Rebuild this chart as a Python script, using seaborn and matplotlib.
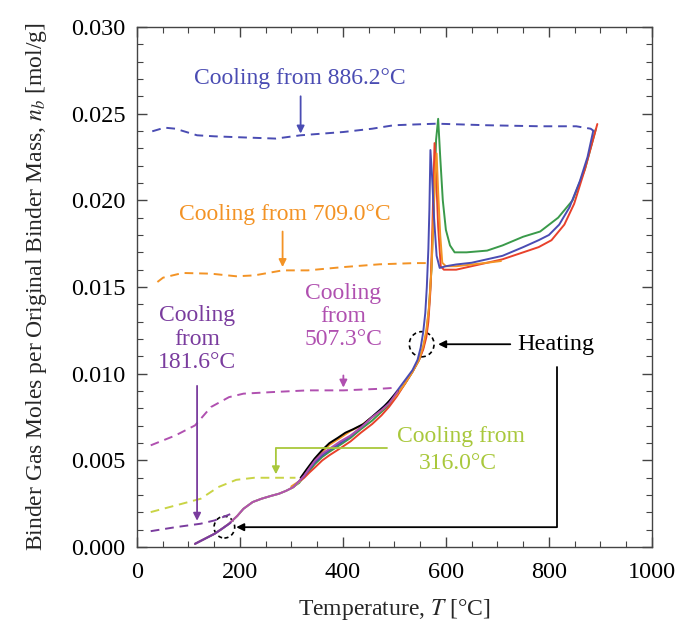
import numpy as np
import pandas as pd
import matplotlib
matplotlib.use("Agg")
import matplotlib.pyplot as plt
from matplotlib.ticker import MultipleLocator, FormatStrFormatter
from matplotlib.patches import Ellipse
import seaborn as sns

# ---- data ----
# shared low-temperature part of the heating runs
T_low = [113, 130, 151, 165, 179, 195, 207, 225, 242, 260, 276, 290, 304]
n_low = [0.00019, 0.00045, 0.00077, 0.00105, 0.00135, 0.0018, 0.00221, 0.0026,
         0.00279, 0.00295, 0.00308, 0.00325, 0.00346]

# heating to 181.6 / 316.0 / 507.3 C
T_h181 = [113, 130, 151, 165, 182]
n_h181 = [0.00019, 0.00045, 0.00077, 0.00105, 0.0014]
T_h316 = T_low + [316]
n_h316 = n_low + [0.0038]
T_h507 = T_low + [315, 325, 335, 346, 360, 374, 395, 415, 435, 457, 475, 490, 507]
n_h507 = n_low + [0.0038, 0.00413, 0.00455, 0.005, 0.0054, 0.00567, 0.0061, 0.00644,
                  0.0069, 0.0075, 0.0079, 0.0083, 0.0090]
T_black = [318, 330, 345, 360, 374, 390, 405, 420, 440, 460, 480, 507]
n_black = [0.0040, 0.0045, 0.0051, 0.0056, 0.0060, 0.0063, 0.0066, 0.0068, 0.0071,
           0.0076, 0.0081, 0.0090]

# heating to 709.0 C (orange)
T_orange = [300, 315, 325, 335, 346, 360, 374, 395, 415, 435, 457, 475, 490, 505, 520,
            535, 548, 556, 562, 567, 572, 576, 579, 582, 585, 589, 593, 600, 620, 651,
            680, 707]
n_orange = [0.0035, 0.0038, 0.0042, 0.0046, 0.0050, 0.0055, 0.0059, 0.0063, 0.0067,
            0.0070, 0.0075, 0.0079, 0.0083, 0.0088, 0.0094, 0.0101, 0.0108, 0.0116,
            0.0125, 0.0138, 0.0160, 0.0190, 0.0215, 0.0227, 0.0205, 0.0180, 0.0164,
            0.0162, 0.0162, 0.0163, 0.0164, 0.0165]

# heating to ~890 C (blue, red, green)
T_blue = T_low + [315, 325, 335, 346, 360, 374, 395, 415, 435, 457, 475, 490, 505, 520,
                  535, 545, 551, 556, 560, 563, 566, 568, 570, 573, 577, 582, 588, 600,
                  620, 650, 680, 710, 750, 780, 800, 820, 840, 860, 875, 886]
n_blue = n_low + [0.0038, 0.0041, 0.0045, 0.0049, 0.0053, 0.0056, 0.0060, 0.0064, 0.0069,
                  0.0075, 0.0080, 0.0084, 0.0090, 0.0096, 0.0102, 0.0108, 0.0115, 0.0124,
                  0.0135, 0.0150, 0.0172, 0.0195, 0.0229, 0.0215, 0.0190, 0.0168, 0.0161,
                  0.0162, 0.0163, 0.0164, 0.0166, 0.0168, 0.0173, 0.0177, 0.0180, 0.0186,
                  0.0196, 0.0211, 0.0225, 0.0240]
T_red = [300, 325, 335, 346, 360, 374, 395, 415, 435, 457, 475, 490, 505, 520, 535, 548,
         556, 562, 566, 570, 573, 576, 578, 581, 585, 590, 596, 620, 650, 680, 710, 750,
         780, 805, 830, 849, 870, 894]
n_red = [0.0034, 0.0040, 0.0043, 0.0046, 0.0050, 0.0053, 0.0057, 0.0061, 0.0066, 0.0071,
         0.0076, 0.0081, 0.0087, 0.0094, 0.0101, 0.0108, 0.0114, 0.0121, 0.0130, 0.0148,
         0.0175, 0.0210, 0.0233, 0.0215, 0.0185, 0.0162, 0.0160, 0.0160, 0.0162, 0.0164,
         0.0166, 0.0170, 0.0173, 0.0177, 0.0186, 0.0198, 0.0218, 0.0244]
T_green = [300, 315, 325, 335, 346, 360, 374, 395, 415, 435, 457, 475, 490, 505, 520, 535,
           548, 556, 562, 567, 572, 577, 581, 585, 589, 594, 600, 608, 617, 640, 680, 710,
           750, 783, 818, 846, 870, 891]
n_green = [0.0034, 0.0037, 0.0041, 0.0044, 0.0048, 0.0052, 0.0055, 0.0059, 0.0063, 0.0068,
           0.0073, 0.0078, 0.0082, 0.0088, 0.0094, 0.0101, 0.0108, 0.0115, 0.0123, 0.0137,
           0.0160, 0.0200, 0.0235, 0.0247, 0.0225, 0.0200, 0.0183, 0.0174, 0.0170, 0.0170,
           0.0171, 0.0174, 0.0179, 0.0182, 0.0190, 0.0200, 0.0218, 0.0241]

# cooling runs (dashed)
T_c886 = [30, 54, 75, 117, 151, 214, 270, 318, 401, 457, 499, 582, 679, 783, 853, 881, 888]
n_c886 = [0.02398, 0.02419, 0.02413, 0.02375, 0.02369, 0.02362, 0.02356, 0.02375, 0.02394,
          0.02413, 0.02433, 0.02442, 0.02433, 0.02427, 0.02427, 0.02413, 0.02398]
T_c709 = [40, 51, 89, 144, 193, 228, 283, 332, 401, 471, 540, 561]
n_c709 = [0.01529, 0.01554, 0.01581, 0.01577, 0.01562, 0.01567, 0.01596, 0.01596, 0.01615,
          0.01631, 0.01638, 0.01638]
T_c507 = [27, 75, 113, 144, 179, 207, 262, 332, 401, 471, 502]
n_c507 = [0.00587, 0.00644, 0.00702, 0.00808, 0.00865, 0.00885, 0.00894, 0.00904, 0.00904,
          0.00913, 0.00919]
T_c316 = [27, 75, 124, 158, 193, 228, 276, 308]
n_c316 = [0.00202, 0.0024, 0.00279, 0.00346, 0.00388, 0.004, 0.004, 0.004]
T_c181 = [27, 75, 124, 151, 183]
n_c181 = [0.00092, 0.00115, 0.00135, 0.00154, 0.00192]

BLUE = "#4a4cb3"
RED = "#e8412b"
GREEN = "#3a9a4a"
ORANGE = "#f39325"
YGREEN = "#c9d445"
MAGENTA = "#b050b0"
VIOLET = "#7a3c9e"
LGREEN = "#a9c83c"

# ---- style ----
sns.set_theme(style="ticks")
plt.rcParams['font.family'] = ['Liberation Serif', 'DejaVu Serif']
plt.rcParams['mathtext.fontset'] = 'stix'

fig = plt.figure(figsize=(6.98, 6.26), dpi=100)
ax = fig.add_axes([0.196, 0.126, 0.738, 0.831])


def draw(T, n, color, dashed=False, lw=1.4):
    df = pd.DataFrame({'T': T, 'n': n})
    sns.lineplot(data=df, x='T', y='n', sort=False, estimator=None, color=color,
                 lw=lw, ax=ax, linestyle=(0, (4.5, 3)) if dashed else '-')


# cooling (dashed)
draw(T_c886, n_c886, BLUE, dashed=True)
draw(T_c709, n_c709, ORANGE, dashed=True)
draw(T_c507, n_c507, MAGENTA, dashed=True)
draw(T_c316, n_c316, YGREEN, dashed=True)
draw(T_c181, n_c181, VIOLET, dashed=True)

# heating (solid)
draw(T_green, n_green, GREEN)
draw(T_red, n_red, RED)
draw(T_orange, n_orange, ORANGE)
draw(T_blue, n_blue, BLUE)
draw(T_black, n_black, "black")
draw(T_h316, n_h316, YGREEN)
draw(T_h507, n_h507, MAGENTA)
draw(T_h181, n_h181, VIOLET)

# ---- axes ----
ax.set_xlim(0, 1000)
ax.set_ylim(0, 0.030)
ax.xaxis.set_major_locator(MultipleLocator(200))
ax.xaxis.set_minor_locator(MultipleLocator(50))
ax.yaxis.set_major_locator(MultipleLocator(0.005))
ax.yaxis.set_minor_locator(MultipleLocator(0.001))
ax.yaxis.set_major_formatter(FormatStrFormatter('%.3f'))
ax.tick_params(which='both', direction='in', top=True, right=True, colors='#444444',
               labelcolor='black', labelsize=17.5)
ax.tick_params(axis='x', which='major', length=7, width=1.0, pad=11)
ax.tick_params(axis='y', which='major', length=7, width=1.0, pad=8)
ax.tick_params(which='minor', length=4, width=0.8)
for s in ax.spines.values():
    s.set_color('#444444')
    s.set_linewidth(1.0)
ax.set_xlabel('Temperature, $T$ [°C]', fontsize=17, labelpad=10)
ax.set_ylabel('Binder Gas Moles per Original Binder Mass, $n_b$ [mol/g]', fontsize=17,
              labelpad=16)

# ---- annotations ----
fs = 17
ap = lambda c: dict(arrowstyle='-|>', color=c, lw=1.3, mutation_scale=11,
                    shrinkA=0, shrinkB=0)
ax.text(316, 0.0270, 'Cooling from 886.2°C', color=BLUE, fontsize=fs, ha='center', va='center')
ax.annotate('', xy=(318, 0.02385), xytext=(318, 0.0260), arrowprops=ap(BLUE))

ax.text(287, 0.0192, 'Cooling from 709.0°C', color=ORANGE, fontsize=fs, ha='center', va='center')
ax.annotate('', xy=(283, 0.01615), xytext=(283, 0.0182), arrowprops=ap(ORANGE))

ax.text(401, 0.0133, 'Cooling\nfrom\n507.3°C', color=MAGENTA, fontsize=fs, ha='center',
        va='center', linespacing=1.15)
ax.annotate('', xy=(401, 0.0092), xytext=(401, 0.0099), arrowprops=ap(MAGENTA))

ax.text(117, 0.0120, 'Cooling\nfrom\n181.6°C', color=VIOLET, fontsize=fs, ha='center',
        va='center', linespacing=1.15)
ax.annotate('', xy=(117, 0.00152), xytext=(117, 0.0093), arrowprops=ap(VIOLET))

ax.text(629, 0.0064, 'Cooling from', color=LGREEN, fontsize=fs, ha='center', va='center')
ax.text(624, 0.0048, '316.0°C', color=LGREEN, fontsize=fs, ha='center', va='center')
ax.plot([485, 270], [0.0057, 0.0057], color=LGREEN, lw=1.3)
ax.annotate('', xy=(270, 0.0042), xytext=(270, 0.0057), arrowprops=ap(LGREEN))

ax.text(738, 0.0117, 'Heating', color='black', fontsize=17.5, ha='left', va='center')
ax.annotate('', xy=(585, 0.0117), xytext=(725, 0.0117), arrowprops=ap('black'))
ax.plot([815, 815], [0.0104, 0.00115], color='black', lw=1.3)
ax.annotate('', xy=(193, 0.00115), xytext=(815, 0.00115), arrowprops=ap('black'))
ax.add_patch(Ellipse((553, 0.0117), 48, 0.00145, fill=False, ls=(0, (2.5, 2)),
                     ec='black', lw=1.2))
ax.add_patch(Ellipse((170, 0.00115), 40, 0.00125, fill=False, ls=(0, (2.5, 2)),
                     ec='black', lw=1.2))

fig.savefig('out.png', dpi=100)
